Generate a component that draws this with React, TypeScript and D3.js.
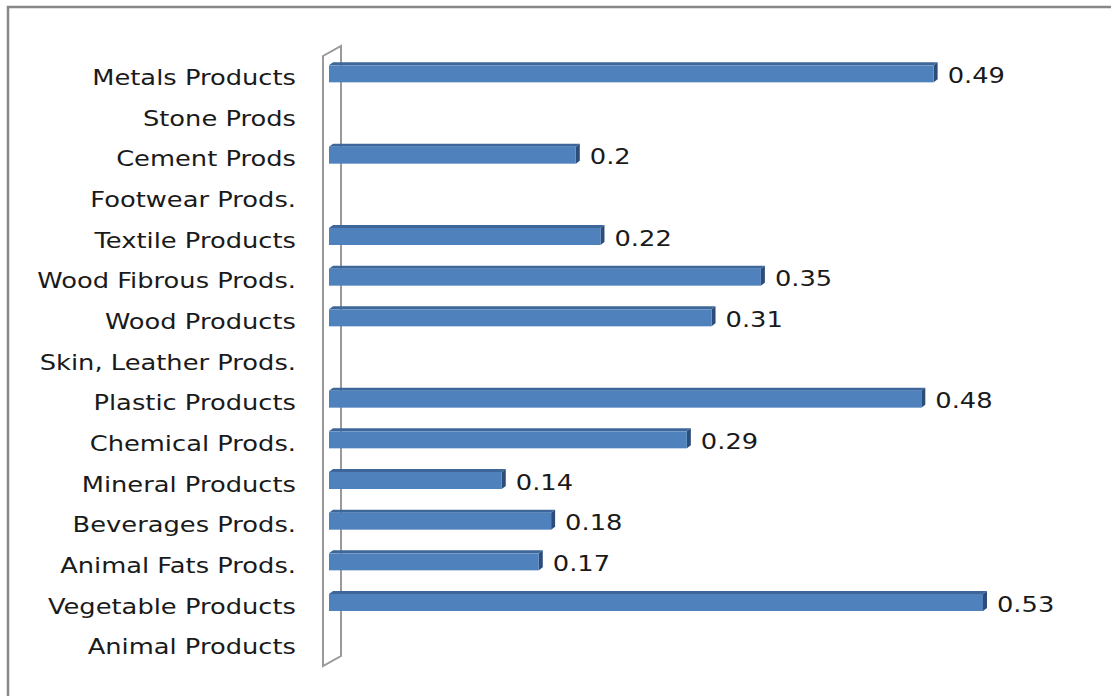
import React from "react";
import * as d3 from "d3";

const categories = [
  "Metals Products",
  "Stone Prods",
  "Cement Prods",
  "Footwear Prods.",
  "Textile Products",
  "Wood Fibrous Prods.",
  "Wood Products ",
  "Skin, Leather Prods.",
  "Plastic Products",
  "Chemical Prods.",
  "Mineral Products",
  "Beverages Prods.",
  "Animal Fats Prods.",
  "Vegetable Products",
  "Animal Products",
];
const values: (number | null)[] = [
  0.49, null, 0.2, null, 0.22, 0.35, 0.31, null, 0.48, 0.29, 0.14, 0.18, 0.17, 0.53, null,
];

const W = 1111;
const H = 696;
const DX = 18;
const DY = -10;
const SX = 1.17;

export default function App() {
  const x = d3.scaleLinear().domain([0, 0.53]).range([329, 983]);
  const y = d3.scaleBand<string>().domain(categories).range([56, 666]);
  const font = "'DejaVu Sans', sans-serif";
  const wallTop = 56;
  const wallBottom = 666;
  const wallX = 323;
  return (
    <svg
      width={W}
      height={H}
      style={{ position: "absolute", left: 0, top: 0, background: "#fff" }}
    >
      <rect x={8} y={7} width={W + 10} height={H + 10} fill="#fff" stroke="#888" strokeWidth={2.5} />
      <path
        d={`M${wallX},${wallTop} L${wallX + DX},${wallTop + DY} L${wallX + DX},${wallBottom + DY} L${wallX},${wallBottom} Z`}
        fill="none"
        stroke="#999"
        strokeWidth={2}
      />
      {categories.map((c, i) => {
        const cy = (y(c) as number) + y.bandwidth() / 2;
        const v = values[i];
        const top = cy - 11;
        const bh = 17;
        const d = 4;
        const x0 = x(0);
        const x1 = v == null ? x0 : x(v);
        return (
          <g key={c}>
            <g transform={`translate(296,${cy + 1}) scale(${SX},1)`}>
              <text
                x={0}
                y={0}
                dy="0.35em"
                textAnchor="end"
                fontFamily={font}
                fontSize={22}
                fill="#1a1a1a"
              >
                {c}
              </text>
            </g>
            {v != null && (
              <g>
                <path
                  d={`M${x0},${top} L${x0 + d},${top - 3} L${x1 + d},${top - 3} L${x1},${top} Z`}
                  fill="#3d679b"
                />
                <path
                  d={`M${x1},${top} L${x1 + d},${top - 3} L${x1 + d},${top + bh - 3} L${x1},${top + bh} Z`}
                  fill="#2c4d7a"
                />
                <rect x={x0} y={top} width={x1 - x0} height={bh} fill="#4f81bd" />
                <g transform={`translate(${x1 + d + 10},${cy - 1}) scale(${SX},1)`}>
                  <text
                    x={0}
                    y={0}
                    dy="0.35em"
                    fontFamily={font}
                    fontSize={22}
                    fill="#1a1a1a"
                  >
                    {String(v)}
                  </text>
                </g>
              </g>
            )}
          </g>
        );
      })}
    </svg>
  );
}
